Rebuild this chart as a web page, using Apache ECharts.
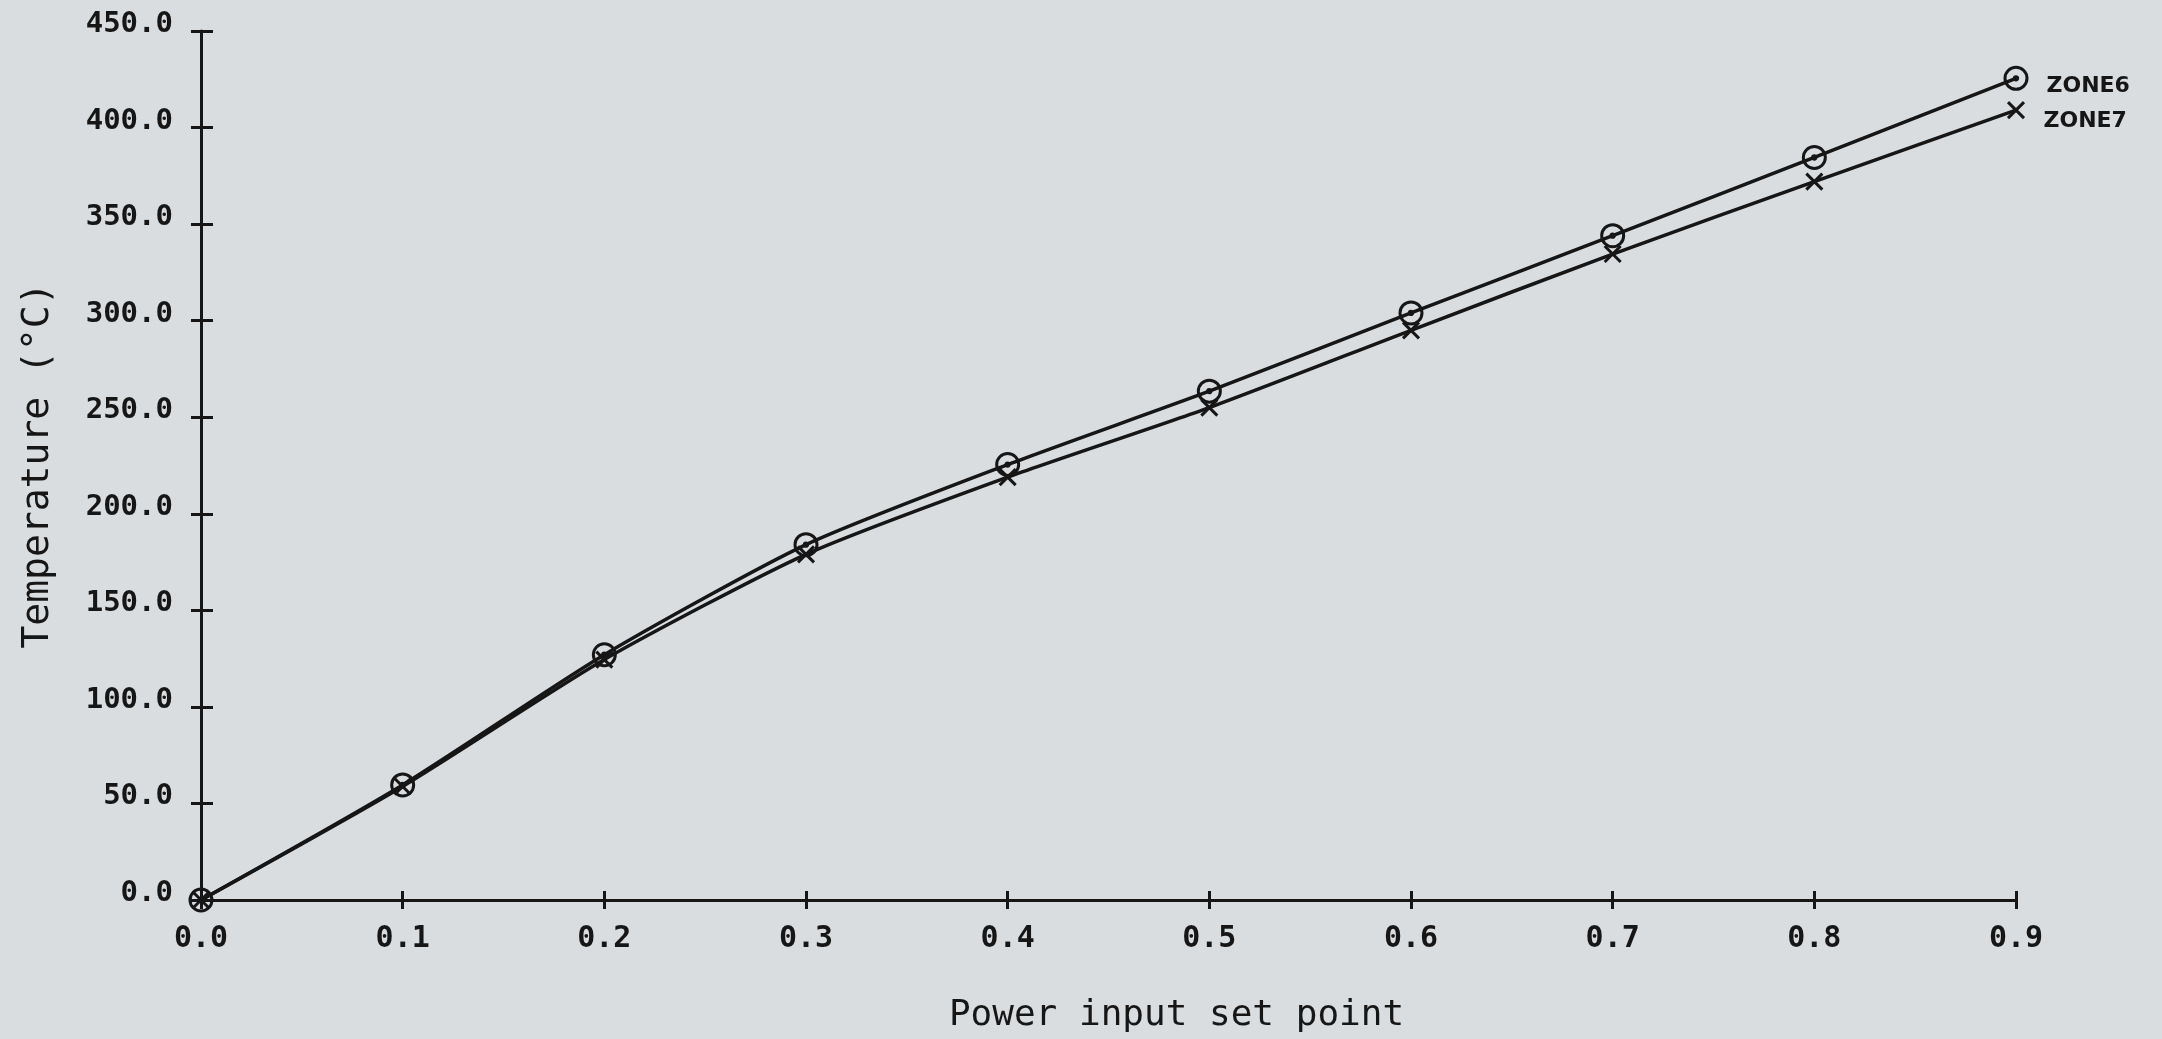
<!DOCTYPE html>
<html>
<head>
<meta charset="utf-8">
<script src="https://cdn.jsdelivr.net/npm/echarts@6/dist/echarts.min.js"></script>
<style>
html,body{margin:0;padding:0;background:#d9dde0;}
#c{width:2162px;height:1039px;}
</style>
</head>
<body>
<div id="c"></div>
<script>
// Power input set point values (x)
const powerSetPoints = [0.0, 0.1, 0.2, 0.3, 0.4, 0.5, 0.6, 0.7, 0.8, 0.9];
// Temperature (°C) readings
const zone6Temps = [0.0, 59.6, 127.0, 184.0, 225.5, 263.5, 304.0, 344.0, 384.5, 425.5];
const zone7Temps = [0.0, 58.8, 124.5, 179.0, 219.0, 255.0, 295.0, 334.5, 372.0, 409.0];
const seriesNames = ['ZONE6', 'ZONE7'];
const xAxisTitle = 'Power input set point';
const yAxisTitle = 'Temperature (°C)';

const ink = '#161616';
const monoFont = '"DejaVu Sans Mono", "Liberation Mono", monospace';

function pairs(xs, ys) { return xs.map((x, i) => [x, ys[i]]); }

const circleDot = 'path://M10,0A10,10 0 1,1 9.99,0Z M10,8.5A1.5,1.5 0 1,1 9.99,8.5Z';
const cross = 'path://M0,0L10,10M10,0L0,10';

const gridPos = {left: 201, right: 146, top: 31, bottom: 134};

const chart = echarts.init(document.getElementById('c'), null, {renderer: 'canvas'});

function lastLabel(name, offset) {
  return {
    show: true,
    position: 'right',
    distance: 12,
    offset: offset,
    formatter: (p) => p.dataIndex === powerSetPoints.length - 1 ? name : '',
    color: ink,
    fontFamily: '"DejaVu Sans", sans-serif',
    fontWeight: 'bold',
    fontSize: 22
  };
}

chart.setOption({
  backgroundColor: '#d9dde0',
  animation: false,
  grid: gridPos,
  xAxis: [
    {
      type: 'value', min: 0, max: 0.9, interval: 0.1,
      position: 'bottom',
      name: xAxisTitle, nameLocation: 'middle', nameGap: 98,
      nameTextStyle: {fontFamily: monoFont, fontSize: 36, color: ink, padding: [0, 0, 0, 136]},
      axisLine: {show: true, lineStyle: {color: ink, width: 3}},
      axisTick: {show: true, inside: true, length: 9, lineStyle: {color: ink, width: 3}},
      axisLabel: {
        show: true, margin: 24, color: ink,
        fontFamily: monoFont, fontWeight: 'bold', fontSize: 30,
        formatter: (v) => v.toFixed(1)
      },
      splitLine: {show: false}
    },
    {
      type: 'value', min: 0, max: 0.9, interval: 0.1,
      position: 'bottom',
      axisLine: {show: false},
      axisTick: {show: true, inside: false, length: 9, lineStyle: {color: ink, width: 3}},
      axisLabel: {show: false},
      splitLine: {show: false}
    }
  ],
  yAxis: [
    {
      type: 'value', min: 0, max: 450, interval: 50,
      position: 'left',
      name: yAxisTitle, nameLocation: 'middle', nameGap: 144, nameRotate: 90,
      nameTextStyle: {fontFamily: monoFont, fontSize: 38, color: ink},
      axisLine: {show: true, lineStyle: {color: ink, width: 3}},
      axisTick: {show: true, inside: true, length: 12, lineStyle: {color: ink, width: 3}},
      axisLabel: {
        show: true, margin: 28, color: ink,
        fontFamily: monoFont, fontWeight: 'bold', fontSize: 29,
        verticalAlign: 'bottom', padding: [0, 0, -8, 0],
        formatter: (v) => v.toFixed(1)
      },
      splitLine: {show: false}
    },
    {
      type: 'value', min: 0, max: 450, interval: 50,
      position: 'left',
      axisLine: {show: false},
      axisTick: {show: true, inside: false, length: 10, lineStyle: {color: ink, width: 3}},
      axisLabel: {show: false},
      splitLine: {show: false}
    }
  ],
  series: [
    {
      name: seriesNames[0],
      type: 'line',
      xAxisIndex: 0, yAxisIndex: 0,
      data: pairs(powerSetPoints, zone6Temps),
      smooth: 0.22,
      symbol: circleDot,
      symbolSize: 22,
      showSymbol: true,
      lineStyle: {color: ink, width: 3.5},
      itemStyle: {color: 'rgba(0,0,0,0)', borderColor: ink, borderWidth: 3},
      label: lastLabel(seriesNames[0], [6, 8]),
      z: 3
    },
    {
      name: seriesNames[1],
      type: 'line',
      xAxisIndex: 0, yAxisIndex: 0,
      data: pairs(powerSetPoints, zone7Temps),
      smooth: 0.22,
      symbol: cross,
      symbolSize: 16,
      showSymbol: true,
      lineStyle: {color: ink, width: 3.5},
      itemStyle: {color: 'rgba(0,0,0,0)', borderColor: ink, borderWidth: 3},
      label: lastLabel(seriesNames[1], [6, 11]),
      z: 3
    }
  ]
});
</script>
</body>
</html>
